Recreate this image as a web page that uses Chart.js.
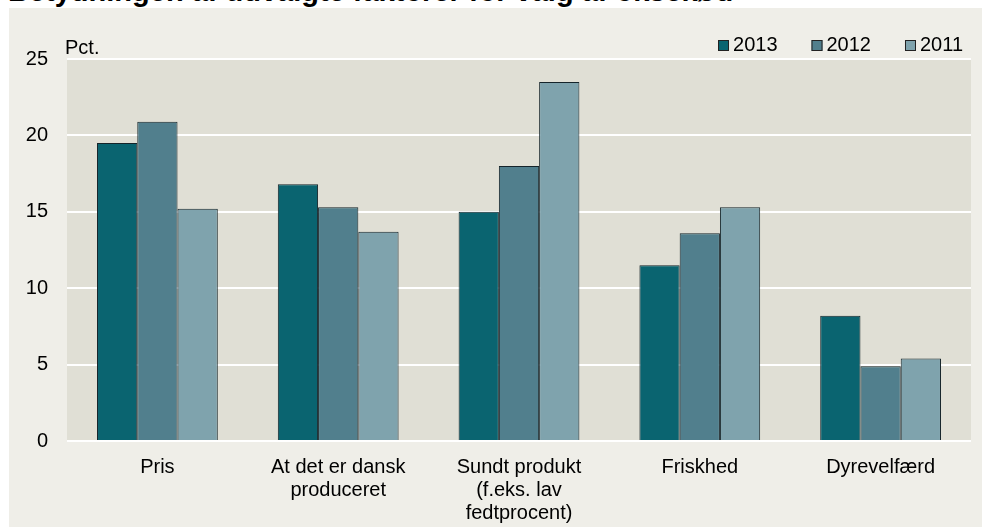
<!DOCTYPE html>
<html>
<head>
<meta charset="utf-8">
<script src="https://cdn.jsdelivr.net/npm/chart.js@4.4.1/dist/chart.umd.min.js"></script>
<style>
  html, body { margin: 0; padding: 0; background: #fff; }
  #wrap { position: relative; width: 982px; height: 527px; overflow: hidden; }
  #panel { position: absolute; left: 9px; top: 8px; right: 0; bottom: 0; background: #EFEEE8; }
  #title { position: absolute; left: 8px; top: -23px; font: bold 29px "Liberation Sans", Arial, sans-serif; line-height: 29px; white-space: nowrap; color: #000; }
  #chart { position: absolute; left: 0; top: 0; }
</style>
</head>
<body>
<div id="wrap">
  <div id="panel"></div>
  <div id="title">Betydningen af udvalgte faktorer for valg af oksekød</div>
  <canvas id="chart" width="982" height="527"></canvas>
</div>
<script>
const categories = [
  ['Pris'],
  ['At det er dansk', 'produceret'],
  ['Sundt produkt', '(f.eks. lav', 'fedtprocent)'],
  ['Friskhed'],
  ['Dyrevelfærd'],
];
const years = ['2013', '2012', '2011'];
const values2013 = [19.5, 16.8, 15.0, 11.5, 8.2];
const values2012 = [20.9, 15.3, 18.0, 13.6, 4.9];
const values2011 = [15.2, 13.7, 23.5, 15.3, 5.4];
const yTicks = [0, 5, 10, 15, 20, 25];
const unitLabel = 'Pct.';
const barColors = ['#0A6470', '#517F8D', '#7FA3AD'];

const FONT = '"Liberation Sans", Arial, sans-serif';

// plot area background (grey-beige)
const plotBg = {
  id: 'plotBg',
  beforeDraw(chart) {
    const { ctx, chartArea: a } = chart;
    ctx.save();
    ctx.fillStyle = '#E0DFD5';
    ctx.fillRect(a.left, a.top, a.right - a.left, a.bottom - a.top);
    ctx.restore();
  },
};

// "Pct." and the right-aligned legend above the plot
const topTexts = {
  id: 'topTexts',
  afterDraw(chart) {
    const { ctx, chartArea: a } = chart;
    ctx.save();
    ctx.font = `20px ${FONT}`;
    ctx.fillStyle = '#000';
    ctx.textBaseline = 'alphabetic';
    ctx.fillText(unitLabel, a.left - 2, a.top - 5);

    let right = a.right - 8;
    const sets = chart.data.datasets;
    for (let i = sets.length - 1; i >= 0; i--) {
      const ds = sets[i];
      const tw = ctx.measureText(ds.label).width;
      const tx = right - tw;
      ctx.fillStyle = '#000';
      ctx.fillText(ds.label, tx, a.top - 8);
      const bx = tx - 15;
      ctx.fillStyle = ds.backgroundColor;
      ctx.fillRect(bx, a.top - 19, 11, 11);
      ctx.strokeStyle = '#222';
      ctx.lineWidth = 1;
      ctx.strokeRect(bx + 0.5, a.top - 18.5, 10, 10);
      right = bx - 34;
    }
    ctx.restore();
  },
};

const seriesValues = [values2013, values2012, values2011];

new Chart(document.getElementById('chart'), {
  type: 'bar',
  data: {
    labels: categories,
    datasets: years.map((y, i) => ({
      label: y,
      data: seriesValues[i],
      backgroundColor: barColors[i],
      borderColor: '#15242A',
      borderWidth: 1,
      categoryPercentage: 0.668,
      barPercentage: 1.0,
    })),
  },
  options: {
    responsive: false,
    animation: false,
    layout: { padding: { left: 0, right: 11, top: 59, bottom: 0 } },
    plugins: {
      legend: { display: false },
      tooltip: { enabled: false },
    },
    scales: {
      x: {
        grid: { display: false },
        border: { display: false },
        ticks: {
          color: '#000',
          font: { family: FONT, size: 20, lineHeight: 1.15 },
          padding: 7,
          maxRotation: 0,
          autoSkip: false,
        },
        afterFit(scale) { scale.height = 86; },
      },
      y: {
        min: 0,
        max: 25,
        afterBuildTicks(scale) { scale.ticks = yTicks.map(v => ({ value: v })); },
        grid: { color: '#FFFFFF', lineWidth: 2, drawTicks: false },
        border: { display: false },
        ticks: {
          color: '#000',
          font: { family: FONT, size: 20 },
          padding: 19,
        },
        afterFit(scale) { scale.width = 67; },
      },
    },
  },
  plugins: [plotBg, topTexts],
});
</script>
</body>
</html>
